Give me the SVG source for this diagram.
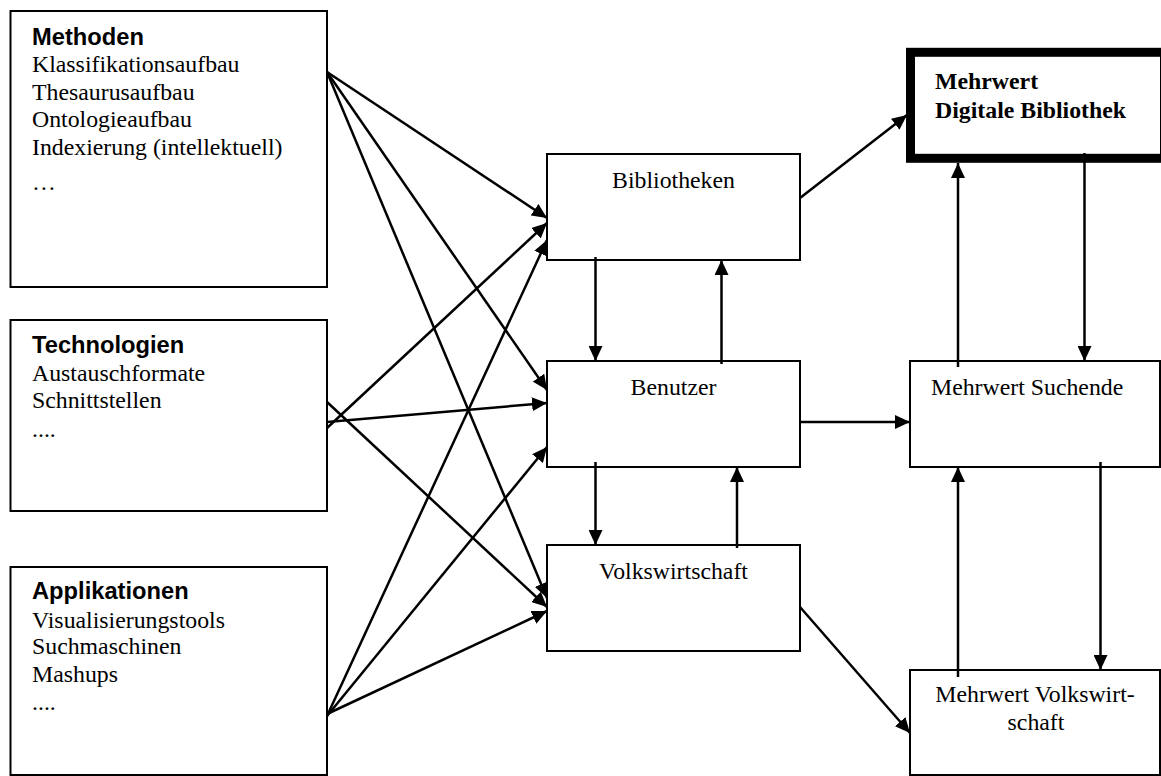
<svg xmlns="http://www.w3.org/2000/svg" width="1161" height="776" viewBox="0 0 1161 776">
<defs>
<marker id="ah" markerUnits="userSpaceOnUse" markerWidth="16" markerHeight="14" refX="15" refY="7" orient="auto"><path d="M0,0 L15,7 L0,14 z" fill="#000"/></marker>
</defs>
<style>
.box{fill:#fff;stroke:#000;stroke-width:2}
.thick{fill:#fff;stroke:#000;stroke-width:9}
.t{font-family:"Liberation Serif","Times New Roman",serif;font-size:23.8px;fill:#000}
.b{font-weight:bold}
.h{font-family:"Liberation Sans",Arial,sans-serif;font-size:23.7px;font-weight:bold;fill:#000}
.m{text-anchor:middle}
.c{stroke:#000;stroke-width:2.5;fill:none;marker-end:url(#ah)}
</style>
<rect width="1161" height="776" fill="#fff"/>
<g id="methoden">
<rect class="box" x="10.5" y="11" width="316.5" height="276"/>
<text class="h" x="32" y="45">Methoden</text>
<text class="t" x="32" y="72">Klassifikationsaufbau</text>
<text class="t" x="32" y="100">Thesaurusaufbau</text>
<text class="t" x="32" y="127">Ontologieaufbau</text>
<text class="t" x="32" y="155">Indexierung (intellektuell)</text>
<text class="t" x="32" y="190">…</text>
</g>
<g id="technologien">
<rect class="box" x="10.5" y="320" width="316.5" height="191"/>
<text class="h" x="32" y="353">Technologien</text>
<text class="t" x="32" y="381">Austauschformate</text>
<text class="t" x="32" y="408">Schnittstellen</text>
<text class="t" x="32" y="437">....</text>
</g>
<g id="applikationen">
<rect class="box" x="10.5" y="567" width="316.5" height="208"/>
<text class="h" x="32" y="599">Applikationen</text>
<text class="t" x="32" y="628">Visualisierungstools</text>
<text class="t" x="32" y="654">Suchmaschinen</text>
<text class="t" x="32" y="682">Mashups</text>
<text class="t" x="32" y="710">....</text>
</g>
<g id="bibliotheken">
<rect class="box" x="547" y="154" width="253" height="106"/>
<text class="t m" x="673.5" y="188">Bibliotheken</text>
</g>
<g id="benutzer">
<rect class="box" x="547" y="361" width="253" height="106"/>
<text class="t m" x="673.5" y="395">Benutzer</text>
</g>
<g id="volkswirtschaft">
<rect class="box" x="547" y="545" width="253" height="106"/>
<text class="t m" x="673.5" y="579">Volkswirtschaft</text>
</g>
<g id="mehrwert-digitale-bibliothek">
<rect class="thick" x="910.5" y="52.3" width="254" height="106"/>
<text class="t b" x="935" y="89">Mehrwert</text>
<text class="t b" x="935" y="118">Digitale Bibliothek</text>
</g>
<g id="mehrwert-suchende">
<rect class="box" x="910" y="361" width="250" height="106"/>
<text class="t" x="931" y="395">Mehrwert Suchende</text>
</g>
<g id="mehrwert-volkswirtschaft">
<rect class="box" x="910" y="670" width="250" height="105"/>
<text class="t m" x="1035" y="702">Mehrwert Volkswirt-</text>
<text class="t m" x="1036" y="730">schaft</text>
</g>
<g id="connectors">
<line class="c" x1="327" y1="72" x2="547" y2="218"/>
<line class="c" x1="327" y1="72" x2="547" y2="390"/>
<line class="c" x1="327" y1="72" x2="547" y2="598"/>
<line class="c" x1="327" y1="428" x2="547" y2="223"/>
<line class="c" x1="327" y1="422" x2="547" y2="403"/>
<line class="c" x1="327" y1="402" x2="547" y2="607"/>
<line class="c" x1="327" y1="716" x2="547" y2="240"/>
<line class="c" x1="327" y1="716" x2="547" y2="447"/>
<line class="c" x1="327" y1="714" x2="547" y2="611"/>
<line class="c" x1="595.5" y1="257" x2="595.5" y2="361"/>
<line class="c" x1="721.5" y1="364" x2="721.5" y2="260"/>
<line class="c" x1="595.5" y1="462" x2="595.5" y2="545"/>
<line class="c" x1="737" y1="548" x2="737" y2="467"/>
<line class="c" x1="800" y1="422" x2="910" y2="422"/>
<line class="c" x1="800" y1="198" x2="907" y2="115"/>
<line class="c" x1="958" y1="367" x2="958" y2="163"/>
<line class="c" x1="1084.5" y1="153" x2="1084.5" y2="361"/>
<line class="c" x1="958" y1="677" x2="958" y2="467"/>
<line class="c" x1="1100.5" y1="462" x2="1100.5" y2="670"/>
<line class="c" x1="800" y1="607" x2="910" y2="733"/>
</g>
</svg>
